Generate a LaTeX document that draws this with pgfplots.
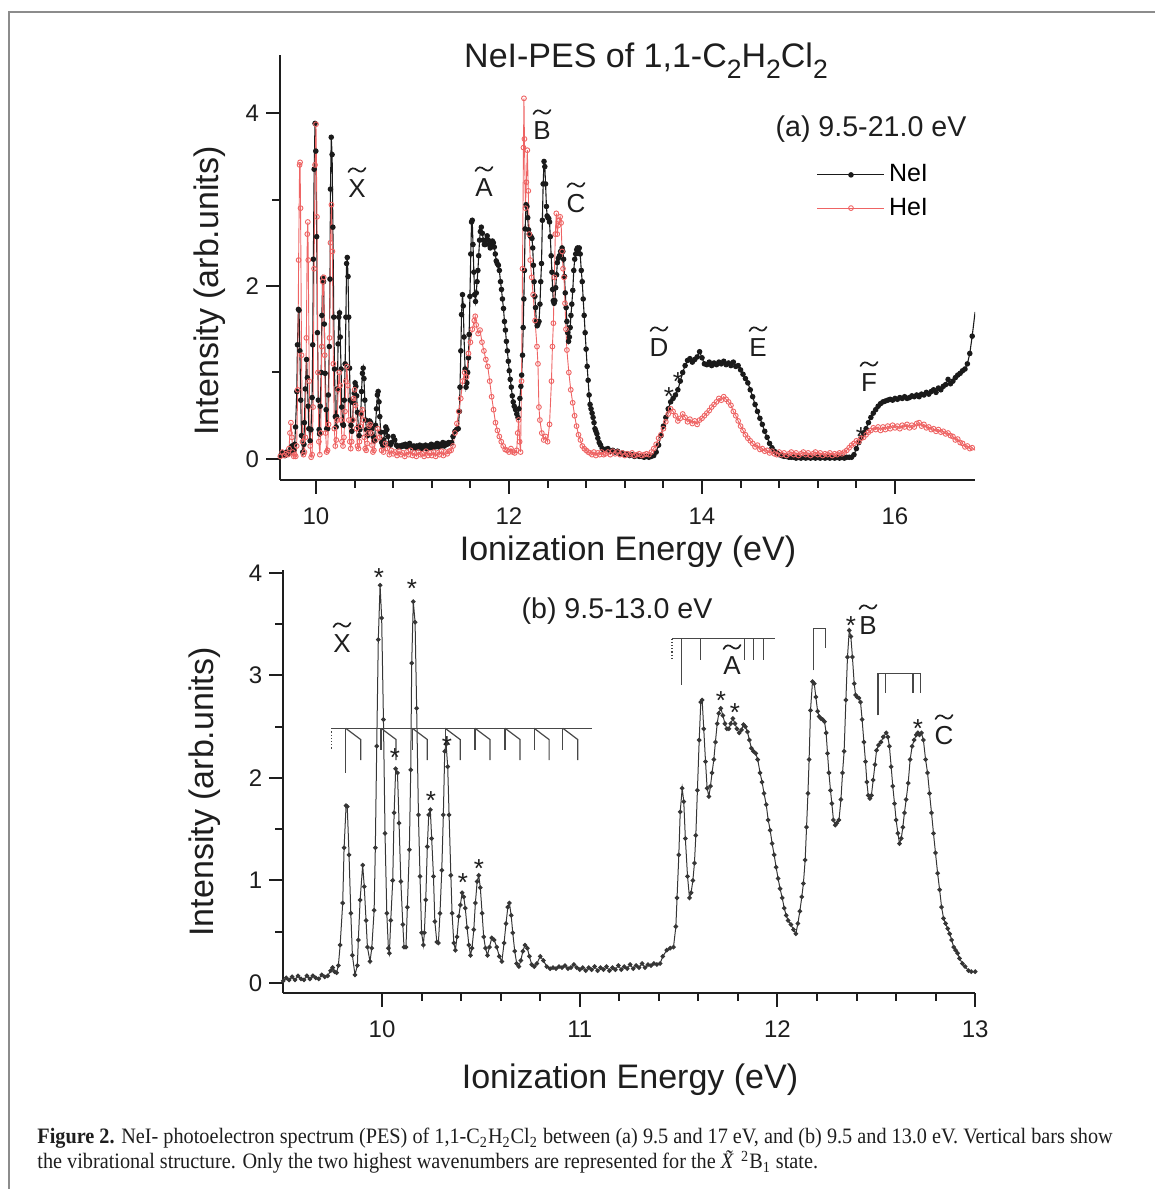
\documentclass[border=0pt]{standalone}
\usepackage{pgfplots}
\pgfplotsset{compat=1.18}
\usepackage{pgfplotstable}
\usepackage{graphicx}
\usepackage{fontspec}
\setmainfont{Liberation Sans}
\newfontfamily\capfont{Liberation Serif}[FakeStretch=0.92]

\definecolor{ax}{HTML}{1E1E1E}
\definecolor{nei}{HTML}{1A1A1A}
\definecolor{neib}{HTML}{363636}
\definecolor{hei}{RGB}{238,100,100}
\definecolor{framecol}{HTML}{8C8C8C}
\definecolor{barcol}{HTML}{474747}

% NeI spectrum, 9.5-13.0 eV (panel b, also the low-energy part of panel a)
\pgfplotstableread{
x y
9.500 0.02
9.515 0.05
9.530 0.03
9.545 0.06
9.560 0.03
9.575 0.07
9.590 0.04
9.605 0.03
9.620 0.07
9.635 0.04
9.650 0.07
9.665 0.05
9.680 0.04
9.695 0.08
9.710 0.06
9.725 0.07
9.740 0.12
9.750 0.15
9.760 0.11
9.770 0.10
9.779 0.17
9.788 0.37
9.801 0.78
9.808 1.32
9.818 1.73
9.824 1.72
9.833 1.25
9.842 0.68
9.850 0.27
9.863 0.08
9.875 0.17
9.880 0.42
9.889 0.81
9.902 1.15
9.910 0.94
9.919 0.61
9.926 0.35
9.939 0.21
9.948 0.34
9.960 0.71
9.966 1.32
9.973 2.31
9.981 3.35
9.990 3.88
9.998 3.56
10.007 2.57
10.015 1.46
10.024 0.68
10.032 0.34
10.037 0.29
10.044 0.61
10.054 1.00
10.061 1.66
10.069 2.09
10.078 2.05
10.086 1.56
10.095 0.99
10.105 0.57
10.111 0.35
10.121 0.35
10.128 0.74
10.138 1.30
10.145 2.08
10.150 3.12
10.158 3.72
10.167 3.52
10.175 2.68
10.184 1.64
10.192 1.04
10.200 0.49
10.209 0.37
10.214 0.49
10.221 0.81
10.229 1.33
10.236 1.64
10.244 1.69
10.251 1.41
10.260 1.04
10.267 0.60
10.277 0.40
10.285 0.39
10.293 0.68
10.302 1.10
10.310 1.64
10.317 2.26
10.324 2.33
10.332 2.11
10.339 1.64
10.348 1.05
10.354 0.68
10.363 0.39
10.371 0.32
10.379 0.45
10.388 0.65
10.396 0.76
10.405 0.88
10.413 0.84
10.421 0.73
10.430 0.54
10.439 0.37
10.447 0.27
10.455 0.34
10.464 0.52
10.472 0.78
10.481 0.99
10.489 1.05
10.497 0.93
10.506 0.68
10.514 0.45
10.523 0.34
10.533 0.27
10.543 0.35
10.555 0.44
10.567 0.42
10.580 0.35
10.593 0.26
10.606 0.21
10.617 0.39
10.627 0.58
10.636 0.74
10.644 0.78
10.653 0.66
10.661 0.49
10.671 0.31
10.681 0.19
10.692 0.16
10.702 0.22
10.712 0.31
10.723 0.37
10.735 0.34
10.745 0.26
10.757 0.18
10.770 0.16
10.783 0.19
10.800 0.26
10.816 0.22
10.833 0.16
10.850 0.14
10.865 0.15
10.880 0.14
10.895 0.16
10.910 0.15
10.925 0.17
10.940 0.14
10.955 0.15
10.970 0.18
10.985 0.15
11.000 0.13
11.015 0.15
11.030 0.12
11.045 0.15
11.060 0.13
11.075 0.16
11.090 0.12
11.105 0.15
11.120 0.13
11.135 0.16
11.150 0.12
11.165 0.15
11.180 0.13
11.195 0.17
11.210 0.13
11.225 0.16
11.240 0.14
11.255 0.18
11.270 0.14
11.285 0.17
11.300 0.15
11.315 0.19
11.330 0.15
11.345 0.18
11.360 0.17
11.375 0.19
11.390 0.18
11.406 0.19
11.420 0.26
11.440 0.32
11.457 0.34
11.474 0.35
11.486 0.55
11.492 0.83
11.501 1.25
11.508 1.67
11.518 1.90
11.526 1.77
11.534 1.41
11.545 1.04
11.555 0.83
11.563 0.88
11.572 1.00
11.580 1.17
11.587 1.44
11.595 1.88
11.604 2.37
11.612 2.74
11.619 2.76
11.627 2.48
11.636 2.16
11.644 1.90
11.653 1.82
11.661 1.92
11.669 2.05
11.678 2.18
11.686 2.35
11.695 2.53
11.703 2.63
11.713 2.68
11.724 2.61
11.734 2.53
11.744 2.48
11.754 2.48
11.764 2.53
11.774 2.58
11.785 2.53
11.795 2.48
11.806 2.44
11.818 2.47
11.828 2.52
11.838 2.50
11.848 2.45
11.858 2.37
11.868 2.29
11.878 2.26
11.890 2.24
11.900 2.18
11.912 2.05
11.922 1.96
11.932 1.85
11.943 1.74
11.953 1.59
11.963 1.49
11.973 1.36
11.983 1.25
11.993 1.13
12.003 1.02
12.013 0.92
12.024 0.83
12.034 0.73
12.044 0.66
12.054 0.61
12.068 0.57
12.081 0.52
12.093 0.48
12.103 0.58
12.113 0.70
12.123 0.84
12.131 0.97
12.140 1.20
12.147 1.52
12.154 1.85
12.160 2.18
12.167 2.66
12.177 2.94
12.186 2.92
12.194 2.79
12.203 2.65
12.211 2.60
12.220 2.58
12.228 2.57
12.238 2.55
12.246 2.44
12.253 2.24
12.260 2.05
12.268 1.88
12.275 1.75
12.283 1.59
12.292 1.54
12.300 1.56
12.311 1.59
12.321 1.79
12.329 2.05
12.337 2.26
12.346 2.76
12.354 3.18
12.363 3.44
12.371 3.38
12.379 3.18
12.388 2.92
12.395 2.81
12.403 2.79
12.412 2.78
12.420 2.74
12.428 2.57
12.437 2.35
12.445 2.16
12.452 1.96
12.459 1.83
12.467 1.80
12.475 1.83
12.484 1.98
12.493 2.13
12.501 2.27
12.511 2.32
12.523 2.35
12.535 2.40
12.550 2.44
12.558 2.40
12.566 2.31
12.575 2.11
12.583 1.92
12.592 1.75
12.600 1.59
12.609 1.46
12.617 1.36
12.626 1.41
12.634 1.52
12.642 1.66
12.651 1.79
12.661 1.95
12.671 2.18
12.681 2.31
12.691 2.37
12.702 2.42
12.710 2.44
12.718 2.42
12.728 2.44
12.738 2.37
12.749 2.18
12.759 2.05
12.769 1.85
12.779 1.66
12.789 1.46
12.799 1.27
12.810 1.07
12.820 0.91
12.830 0.74
12.840 0.63
12.850 0.58
12.861 0.53
12.871 0.48
12.881 0.42
12.891 0.35
12.901 0.32
12.911 0.29
12.921 0.24
12.935 0.19
12.949 0.16
12.966 0.12
12.980 0.11
13.000 0.11
}\neilow

% NeI spectrum, 13.0-16.83 eV
\pgfplotstableread{
x y
13.000 0.11
13.025 0.12
13.050 0.09
13.075 0.10
13.100 0.08
13.125 0.09
13.150 0.06
13.175 0.07
13.200 0.05
13.225 0.06
13.250 0.04
13.275 0.05
13.300 0.03
13.325 0.04
13.350 0.03
13.375 0.03
13.400 0.02
13.425 0.03
13.450 0.02
13.475 0.03
13.500 0.04
13.525 0.08
13.550 0.16
13.575 0.27
13.600 0.38
13.625 0.48
13.650 0.58
13.675 0.66
13.700 0.70
13.725 0.74
13.750 0.80
13.775 0.90
13.800 1.00
13.825 1.08
13.850 1.14
13.875 1.16
13.900 1.12
13.925 1.15
13.950 1.18
13.975 1.24
14.000 1.17
14.025 1.10
14.050 1.09
14.075 1.12
14.100 1.08
14.125 1.11
14.150 1.09
14.175 1.12
14.200 1.10
14.225 1.13
14.250 1.09
14.275 1.11
14.300 1.08
14.325 1.12
14.350 1.07
14.375 1.08
14.400 1.03
14.425 0.98
14.450 0.93
14.475 0.88
14.500 0.80
14.525 0.72
14.550 0.63
14.575 0.55
14.600 0.47
14.625 0.40
14.650 0.32
14.675 0.25
14.700 0.18
14.725 0.13
14.750 0.09
14.775 0.07
14.800 0.05
14.825 0.04
14.850 0.03
14.875 0.03
14.900 0.02
14.925 0.02
14.950 0.02
14.975 0.01
15.000 0.02
15.025 0.01
15.050 0.02
15.075 0.01
15.100 0.02
15.125 0.01
15.150 0.02
15.175 0.01
15.200 0.02
15.225 0.01
15.250 0.02
15.275 0.01
15.300 0.02
15.325 0.01
15.350 0.02
15.375 0.01
15.400 0.02
15.425 0.01
15.450 0.02
15.475 0.01
15.500 0.02
15.525 0.02
15.550 0.02
15.575 0.05
15.600 0.12
15.625 0.19
15.650 0.25
15.675 0.30
15.700 0.35
15.725 0.42
15.750 0.48
15.775 0.53
15.800 0.57
15.825 0.61
15.850 0.64
15.875 0.66
15.900 0.67
15.925 0.68
15.950 0.69
15.975 0.68
16.000 0.70
16.025 0.69
16.050 0.71
16.075 0.70
16.100 0.72
16.125 0.70
16.150 0.71
16.175 0.73
16.200 0.72
16.225 0.74
16.250 0.72
16.275 0.75
16.300 0.74
16.325 0.77
16.350 0.75
16.375 0.78
16.400 0.80
16.425 0.77
16.450 0.82
16.475 0.80
16.500 0.84
16.525 0.86
16.550 0.92
16.575 0.87
16.600 0.90
16.625 0.94
16.650 0.97
16.675 0.99
16.700 1.02
16.725 1.04
16.750 1.10
16.775 1.22
16.800 1.42
16.830 1.70
}\neihigh

% HeI spectrum, 9.6-16.83 eV
\pgfplotstableread{
x y
9.60 0.05
9.62 0.03
9.63 0.03
9.65 0.08
9.67 0.04
9.69 0.06
9.71 0.05
9.72 0.12
9.73 0.30
9.74 0.42
9.75 0.25
9.76 0.08
9.77 0.03
9.78 0.05
9.79 0.03
9.80 0.15
9.81 0.80
9.82 2.30
9.83 3.40
9.835 3.43
9.84 2.90
9.85 1.20
9.86 0.20
9.87 0.05
9.88 0.08
9.89 0.25
9.90 1.40
9.91 2.60
9.915 2.74
9.92 2.30
9.93 0.90
9.94 0.15
9.95 0.02
9.96 0.05
9.97 0.60
9.98 2.20
9.99 3.40
10.00 3.87
10.01 2.80
10.02 1.00
10.03 0.20
10.04 0.05
10.05 0.30
10.06 1.30
10.07 2.05
10.08 2.10
10.09 1.20
10.10 0.30
10.11 0.08
10.12 0.10
10.13 0.40
10.14 1.40
10.15 2.50
10.16 2.94
10.17 2.40
10.18 1.10
10.19 0.35
10.20 0.15
10.21 0.22
10.22 0.45
10.23 0.80
10.24 1.00
10.25 0.85
10.26 0.45
10.27 0.20
10.28 0.15
10.29 0.25
10.30 0.55
10.31 0.90
10.32 1.07
10.33 0.85
10.34 0.45
10.35 0.20
10.36 0.12
10.37 0.20
10.38 0.45
10.39 0.70
10.40 0.80
10.41 0.62
10.42 0.35
10.43 0.15
10.44 0.12
10.45 0.20
10.46 0.38
10.47 0.52
10.48 0.57
10.49 0.45
10.50 0.25
10.51 0.12
10.52 0.10
10.53 0.18
10.54 0.30
10.55 0.38
10.56 0.40
10.57 0.30
10.58 0.16
10.59 0.08
10.60 0.10
10.62 0.22
10.64 0.35
10.66 0.25
10.68 0.10
10.70 0.08
10.72 0.18
10.74 0.12
10.76 0.05
10.78 0.10
10.80 0.06
10.82 0.08
10.84 0.04
10.86 0.09
10.88 0.05
10.90 0.07
10.92 0.03
10.94 0.08
10.96 0.05
10.98 0.10
11.00 0.04
11.02 0.07
11.04 0.03
11.06 0.08
11.08 0.05
11.10 0.06
11.12 0.03
11.14 0.09
11.16 0.04
11.18 0.07
11.20 0.04
11.22 0.08
11.24 0.03
11.26 0.07
11.28 0.05
11.30 0.09
11.32 0.04
11.34 0.08
11.36 0.06
11.38 0.09
11.40 0.10
11.42 0.15
11.44 0.30
11.46 0.41
11.48 0.55
11.50 0.70
11.52 0.90
11.54 1.00
11.56 0.95
11.58 1.22
11.60 1.35
11.62 1.50
11.64 1.60
11.65 1.65
11.66 1.55
11.68 1.45
11.70 1.49
11.72 1.35
11.74 1.25
11.76 1.15
11.78 1.07
11.80 0.90
11.82 0.72
11.84 0.57
11.86 0.42
11.88 0.33
11.90 0.26
11.92 0.20
11.94 0.15
11.96 0.11
11.98 0.10
12.00 0.08
12.02 0.12
12.04 0.08
12.06 0.07
12.08 0.10
12.09 0.30
12.10 0.45
12.11 0.20
12.12 0.08
12.13 0.90
12.14 2.20
12.15 3.60
12.155 4.17
12.16 3.70
12.17 2.90
12.18 3.20
12.19 3.57
12.20 3.10
12.21 2.60
12.22 2.30
12.235 2.10
12.25 1.90
12.27 1.60
12.29 1.30
12.30 1.10
12.31 0.60
12.32 0.45
12.34 0.30
12.36 0.22
12.38 0.26
12.40 0.20
12.42 0.40
12.44 0.90
12.45 1.30
12.46 1.57
12.47 2.10
12.48 2.60
12.49 2.84
12.50 2.60
12.51 2.70
12.52 2.76
12.53 2.80
12.54 2.73
12.55 2.40
12.56 2.20
12.57 2.10
12.58 1.80
12.59 1.50
12.60 1.26
12.62 1.00
12.64 0.80
12.66 0.65
12.68 0.50
12.70 0.38
12.72 0.28
12.74 0.22
12.76 0.15
12.78 0.12
12.80 0.10
12.82 0.08
12.84 0.07
12.86 0.05
12.88 0.08
12.90 0.04
12.92 0.07
12.94 0.05
12.96 0.08
12.98 0.05
13.000 0.06
13.025 0.08
13.050 0.05
13.075 0.09
13.100 0.06
13.125 0.08
13.150 0.05
13.175 0.07
13.200 0.04
13.225 0.06
13.250 0.05
13.275 0.07
13.300 0.04
13.325 0.05
13.350 0.06
13.375 0.04
13.400 0.05
13.425 0.06
13.450 0.05
13.475 0.08
13.500 0.12
13.525 0.17
13.550 0.24
13.575 0.28
13.600 0.35
13.625 0.43
13.650 0.52
13.675 0.58
13.700 0.55
13.725 0.50
13.750 0.44
13.775 0.47
13.800 0.52
13.825 0.48
13.850 0.43
13.875 0.46
13.900 0.41
13.925 0.44
13.950 0.40
13.975 0.45
14.000 0.47
14.025 0.50
14.050 0.53
14.075 0.56
14.100 0.60
14.125 0.63
14.150 0.66
14.175 0.70
14.200 0.68
14.225 0.72
14.250 0.69
14.275 0.66
14.300 0.62
14.325 0.55
14.350 0.50
14.375 0.44
14.400 0.38
14.425 0.33
14.450 0.28
14.475 0.24
14.500 0.21
14.525 0.18
14.550 0.14
14.575 0.16
14.600 0.11
14.625 0.12
14.650 0.09
14.675 0.10
14.700 0.07
14.725 0.09
14.750 0.06
14.775 0.05
14.800 0.08
14.825 0.05
14.850 0.07
14.875 0.04
14.900 0.06
14.925 0.08
14.950 0.05
14.975 0.07
15.000 0.04
15.025 0.06
15.050 0.08
15.075 0.05
15.100 0.07
15.125 0.04
15.150 0.06
15.175 0.08
15.200 0.05
15.225 0.07
15.250 0.04
15.275 0.06
15.300 0.05
15.325 0.07
15.350 0.04
15.375 0.06
15.400 0.05
15.425 0.07
15.450 0.06
15.475 0.08
15.500 0.10
15.525 0.13
15.550 0.16
15.575 0.18
15.600 0.21
15.625 0.20
15.650 0.24
15.675 0.25
15.700 0.28
15.725 0.31
15.750 0.33
15.775 0.36
15.800 0.34
15.825 0.37
15.850 0.33
15.875 0.37
15.900 0.34
15.925 0.38
15.950 0.35
15.975 0.39
16.000 0.36
16.025 0.38
16.050 0.35
16.075 0.39
16.100 0.37
16.125 0.40
16.150 0.36
16.175 0.39
16.200 0.37
16.225 0.41
16.250 0.42
16.275 0.38
16.300 0.40
16.325 0.36
16.350 0.37
16.375 0.34
16.400 0.35
16.425 0.32
16.450 0.34
16.475 0.31
16.500 0.32
16.525 0.29
16.550 0.30
16.575 0.27
16.600 0.26
16.625 0.22
16.650 0.23
16.675 0.19
16.700 0.18
16.725 0.14
16.750 0.15
16.775 0.12
16.800 0.13
16.830 0.10
}\hei

\pgfplotsset{
  pesaxis/.style={
    scale only axis,
    axis x line=bottom, axis y line=left,
    axis line style={-, line width=1pt, ax},
    tick align=outside,
    major tick length=7pt, minor tick length=4pt,
    tick style={line width=1pt, ax},
    tick label style={font=\fontsize{12}{12}\selectfont, text=ax},
    xticklabel style={yshift=-3.5pt},
    /pgf/number format/assume math mode=true,
    clip=true,
  },
}

% lowered subscript for the title formula
\newcommand\sub[1]{\raisebox{-0.32em}{\scalebox{0.78}{#1}}}
% state letter (base point in pixel units) with a drawn tilde above it
\newcommand\statelabel[3]{%
  \node[anchor=base, inner sep=0pt, font=\fontsize{13}{13}\selectfont] at (#1,#2) {#3};
  \draw[ax, line width=0.85pt, line cap=round]
    ({#1-8.5},{#2-26})
      .. controls ({#1-6},{#2-31}) and ({#1-2.5},{#2-30}) .. ({#1},{#2-28})
      .. controls ({#1+2.5},{#2-26}) and ({#1+6},{#2-25}) .. ({#1+8.5},{#2-30});
}

\begin{document}
\begin{tikzpicture}
\path[use as bounding box] (0,0) rectangle (577.5pt,594.5pt);

% panel (a)
\begin{axis}[pesaxis,
  at={(140pt,354.5pt)}, anchor=south west,
  width=347.5pt, height=212.5pt,
  xmin=9.627, xmax=16.829, ymin=-0.243, ymax=4.671,
  xtick={10,12,14,16}, minor x tick num=4,
  ytick={0,2,4}, minor y tick num=1,
  legend style={draw=none, fill=none, at={(axis description cs:0.772,0.752)},
    anchor=north west, font=\fontsize{12.5}{12.5}\selectfont,
    row sep=2.5pt, inner sep=0pt},
  legend cell align=left,
  legend image code/.code={\draw[mark repeat=2,mark phase=2]
    plot coordinates {(0pt,0pt) (16.75pt,0pt) (33.5pt,0pt)};},
]
\addplot[nei, line width=0.55pt, mark=*, mark size=1.1pt] table {\neilow};
\addlegendentry{NeI}
\addplot[nei, line width=0.55pt, mark=*, mark size=1.1pt, forget plot] table {\neihigh};
\addplot[hei, line width=0.45pt, mark=o, mark size=1.2pt, mark options={line width=0.45pt}] table {\hei};
\addlegendentry{HeI}
\end{axis}

% panel (b)
\begin{axis}[pesaxis,
  at={(141.6pt,98pt)}, anchor=south west,
  width=346pt, height=211.5pt,
  xmin=9.5, xmax=13, ymin=-0.0976, ymax=4.029,
  xtick={10,11,12,13}, minor x tick num=4,
  ytick={0,1,2,3,4}, minor y tick num=1,
]
\addplot[neib, line width=0.5pt, mark=*, mark size=0.9pt] table {\neilow};
% vibrational progression of the X state
\draw[barcol, line width=0.6pt] (axis cs:9.746,2.485) -- (axis cs:11.061,2.485);
\draw[barcol, line width=0.6pt, densely dotted] (axis cs:9.746,2.485) -- (axis cs:9.746,2.27);
\draw[barcol, line width=0.6pt] (axis cs:9.816,2.485) -- (axis cs:9.816,2.05);
\pgfplotsinvokeforeach{9.995,10.153,10.319,10.470,10.622,10.769,10.914}{
  \draw[barcol, line width=0.6pt] (axis cs:#1,2.485) -- (axis cs:#1,2.27);
}
\pgfplotsinvokeforeach{9.816,9.995,10.153,10.319,10.470,10.622,10.769,10.914}{
  \draw[barcol, line width=0.6pt] (axis cs:#1,2.485) -- ++(axis direction cs:0.076,-0.11) -- ++(axis direction cs:0,-0.20);
}
% progression of the A state
\draw[barcol, line width=0.6pt] (axis cs:11.466,3.36) -- (axis cs:11.988,3.36);
\draw[barcol, line width=0.6pt, densely dotted] (axis cs:11.466,3.36) -- (axis cs:11.466,3.15);
\draw[barcol, line width=0.6pt] (axis cs:11.516,3.36) -- (axis cs:11.516,2.91);
\pgfplotsinvokeforeach{11.612,11.833,11.878,11.929}{
  \draw[barcol, line width=0.6pt] (axis cs:#1,3.36) -- (axis cs:#1,3.15);
}
% progression of the B state
\draw[barcol, line width=0.6pt] (axis cs:12.182,3.05) -- (axis cs:12.182,3.46) -- (axis cs:12.241,3.46) -- (axis cs:12.241,3.27);
% progression of the C state
\draw[barcol, line width=0.6pt] (axis cs:12.508,2.61) -- (axis cs:12.508,3.02) -- (axis cs:12.722,3.02);
\pgfplotsinvokeforeach{12.545,12.685,12.722}{
  \draw[barcol, line width=0.6pt] (axis cs:#1,3.02) -- (axis cs:#1,2.83);
}
\end{axis}

% titles, labels and state assignments
\begin{scope}[x=0.5pt, y=-0.5pt, yshift=594.5pt, text=ax]
  \draw[framecol, line width=1pt] (8.5,1189) -- (8.5,12.5) -- (1155,12.5);

  \node[anchor=base, font=\fontsize{17}{17}\selectfont] at (646,68)
    {NeI-PES of 1,1-C\sub{2}H\sub{2}Cl\sub{2}};
  \node[anchor=base, font=\fontsize{14.3}{14.3}\selectfont] at (871,137) {(a) 9.5-21.0 eV};
  \node[anchor=base, font=\fontsize{14.3}{14.3}\selectfont] at (617,619) {(b) 9.5-13.0 eV};

  \node[anchor=base, font=\fontsize{17}{17}\selectfont] at (628,561) {Ionization Energy (eV)};
  \node[anchor=base, font=\fontsize{17}{17}\selectfont] at (630,1089) {Ionization Energy (eV)};
  \node[rotate=90, anchor=center, font=\fontsize{17}{17}\selectfont] at (210,291) {Intensity (arb.units)};
  \node[rotate=90, anchor=center, font=\fontsize{17}{17}\selectfont] at (205,792) {Intensity (arb.units)};

  \statelabel{357}{198}{X}
  \statelabel{484}{197}{A}
  \statelabel{542}{140}{B}
  \statelabel{576}{213}{C}
  \statelabel{659}{357}{D}
  \statelabel{758}{357}{E}
  \statelabel{869}{392}{F}
  \statelabel{342}{653}{X}
  \statelabel{732}{675}{A}
  \statelabel{868}{635}{B}
  \statelabel{944}{745}{C}

  \begin{scope}[every node/.style={anchor=base, font=\fontsize{13}{13}\selectfont, inner sep=0pt}]
    \foreach \px/\py in {669/391, 678/376, 861/431,
                         379/572, 412/583, 395/752, 431/795, 447/740, 463/877, 479/863,
                         721/695, 735/707, 851/620, 918/723}
      \node at (\px,\py+15) {*};
  \end{scope}

  \begin{scope}[every node/.style={anchor=base west, inner sep=0pt, font=\capfont\fontsize{11}{13}\selectfont}]
    \node at (37,1144) {\textbf{Figure 2.} NeI- photoelectron spectrum (PES) of 1,1-C\textsubscript{2}H\textsubscript{2}Cl\textsubscript{2} between (a) 9.5 and 17 eV, and (b) 9.5 and 13.0 eV. Vertical bars show};
    \node at (37,1169) {the vibrational structure. Only the two highest wavenumbers are represented for the \textit{\~X}\textsuperscript{2}B\textsubscript{1} state.};
  \end{scope}
\end{scope}
\end{tikzpicture}
\end{document}
